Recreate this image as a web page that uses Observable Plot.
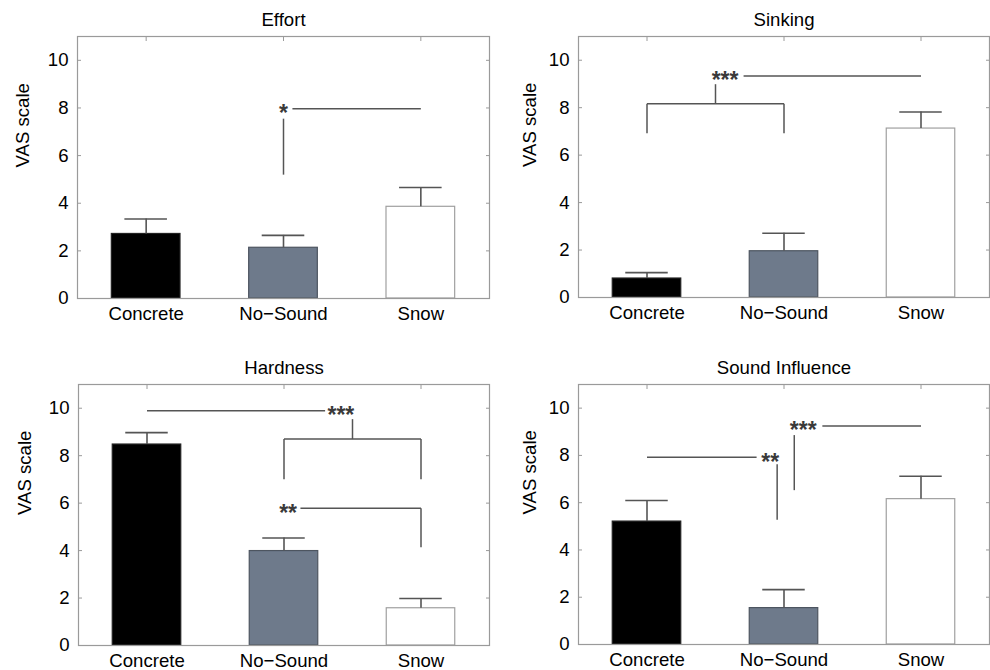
<!DOCTYPE html>
<html>
<head>
<meta charset="utf-8">
<script src="https://cdn.jsdelivr.net/npm/d3@7"></script>
<script src="https://cdn.jsdelivr.net/npm/@observablehq/plot@0.6"></script>
<style>
  html, body { margin: 0; padding: 0; background: #fff; overflow: hidden; }
  #root { position: relative; width: 990px; height: 670px; background: #fff; }
  .panel { position: absolute; }
</style>
</head>
<body>
<div id="root"></div>
<script>
// ---------- data ----------
const categories = ["Concrete", "No\u2212Sound", "Snow"];
const yTicks = [0, 2, 4, 6, 8, 10];
const titles = ["Effort", "Sinking", "Hardness", "Sound Influence"];
const yLabel = "VAS scale";

// bar means and upper ends of the error bars (Concrete, No-Sound, Snow)
const effortMean = [2.71, 2.13, 3.85];
const effortUpper = [3.34, 2.65, 4.66];
const sinkingMean = [0.80, 1.95, 7.12];
const sinkingUpper = [1.05, 2.71, 7.82];
const hardnessMean = [8.47, 3.98, 1.57];
const hardnessUpper = [8.97, 4.53, 1.98];
const soundMean = [5.20, 1.54, 6.15];
const soundUpper = [6.09, 2.32, 7.12];

// significance segments: [x1, y1, x2, y2] in category-index units
const effortSig = [[1, 7.55, 1, 5.2], [1.065, 7.97, 2, 7.97]];
const effortStars = [[1, 7.97, "*"]];
const sinkingSig = [[0, 6.92, 0, 8.17], [1, 6.92, 1, 8.17], [0, 8.17, 1, 8.17],
                    [0.5, 8.17, 0.5, 8.99], [0.705, 9.34, 2, 9.34]];
const sinkingStars = [[0.57, 9.34, "***"]];
const hardnessSig = [[0, 9.89, 1.30, 9.89], [1, 7.01, 1, 8.70], [2, 7.01, 2, 8.70],
                     [1, 8.70, 2, 8.70], [1.5, 8.70, 1.5, 9.54],
                     [1.12, 5.78, 2, 5.78], [2, 5.78, 2, 4.14]];
const hardnessStars = [[1.415, 9.89, "***"], [1.03, 5.78, "**"]];
const soundSig = [[0, 7.92, 0.80, 7.92], [0.95, 7.63, 0.95, 5.28],
                  [1.075, 8.86, 1.075, 6.53], [1.28, 9.24, 2, 9.24]];
const soundStars = [[0.90, 7.92, "**"], [1.14, 9.24, "***"]];

// ---------- styling / layout ----------
const fills = ["#000000", "#6e7a8b", "#ffffff"];
const strokes = ["#222222", "#4d5560", "#a0a0a0"];
const FS = 18.6;

const panels = [
  {title: titles[0], mean: effortMean, upper: effortUpper, sig: effortSig, stars: effortStars,
   left: 0, top: 0, mL: 77, mR: 6, mT: 36, mB: 37, labelDx: -54},
  {title: titles[1], mean: sinkingMean, upper: sinkingUpper, sig: sinkingSig, stars: sinkingStars,
   left: 495, top: 0, mL: 83, mR: 1, mT: 36, mB: 38, labelDx: -48},
  {title: titles[2], mean: hardnessMean, upper: hardnessUpper, sig: hardnessSig, stars: hardnessStars,
   left: 0, top: 335, mL: 78, mR: 6, mT: 49, mB: 25, labelDx: -53},
  {title: titles[3], mean: soundMean, upper: soundUpper, sig: soundSig, stars: soundStars,
   left: 495, top: 335, mL: 83, mR: 1, mT: 49, mB: 26, labelDx: -48}
];

const root = document.getElementById("root");

for (const p of panels) {
  const bars = categories.map((c, i) => ({i, c, v: p.mean[i], e: p.upper[i]}));
  const segs = p.sig.map(([x1, y1, x2, y2]) => ({x1, y1, x2, y2}));
  const stars = p.stars.map(([x, y, t]) => ({x, y, t}));

  const chart = Plot.plot({
    width: 495,
    height: 335,
    marginLeft: p.mL, marginRight: p.mR, marginTop: p.mT, marginBottom: p.mB,
    x: {domain: [-0.5, 2.5]},
    y: {domain: [0, 11]},
    style: {fontFamily: "'Liberation Sans', Arial, Helvetica, sans-serif", fontSize: FS + "px",
            background: "transparent", color: "#000", overflow: "visible"},
    marks: [
      Plot.rectY(bars, {x1: d => d.i - 0.25, x2: d => d.i + 0.25, y: "v",
        fill: d => fills[d.i], stroke: d => strokes[d.i], strokeWidth: 1.2}),
      Plot.ruleX(bars, {x: "i", y1: "v", y2: "e", stroke: "#555", strokeWidth: 1.6}),
      Plot.ruleY(bars, {y: "e", x1: d => d.i - 0.155, x2: d => d.i + 0.155, stroke: "#555", strokeWidth: 1.6}),
      Plot.link(segs, {x1: "x1", y1: "y1", x2: "x2", y2: "y2", stroke: "#555", strokeWidth: 1.5}),
      Plot.text(stars, {x: "x", y: "y", text: "t", fontSize: 23, fontWeight: "bold", fill: "#3a3a3a", dy: 5}),
      Plot.frame({stroke: "#9a9a9a", strokeWidth: 1.2}),
      Plot.axisY({anchor: "left", ticks: yTicks, tickSize: 0, tickPadding: 9, label: null, fontSize: FS}),
      Plot.axisY({anchor: "left", ticks: yTicks, tickSize: 4, dx: 4, text: null, label: null, stroke: "#9a9a9a"}),
      Plot.axisY({anchor: "right", ticks: yTicks, tickSize: 4, dx: -4, text: null, label: null, stroke: "#9a9a9a"}),
      Plot.axisX({anchor: "top", ticks: [0, 1, 2], tickSize: 4, dy: 4, text: null, label: null, stroke: "#9a9a9a"}),
      Plot.axisX({anchor: "bottom", ticks: [0, 1, 2], tickFormat: i => categories[i], tickSize: 0,
        tickPadding: 8, label: null, fontSize: FS}),
      Plot.text([p.title], {frameAnchor: "top", lineAnchor: "bottom", dy: -11, fontSize: FS}),
      Plot.text([yLabel], {frameAnchor: "left", rotate: -90, dx: p.labelDx, fontSize: FS})
    ]
  });
  const holder = document.createElement("div");
  holder.className = "panel";
  holder.style.left = p.left + "px";
  holder.style.top = p.top + "px";
  holder.appendChild(chart);
  root.appendChild(holder);
}
</script>
</body>
</html>
